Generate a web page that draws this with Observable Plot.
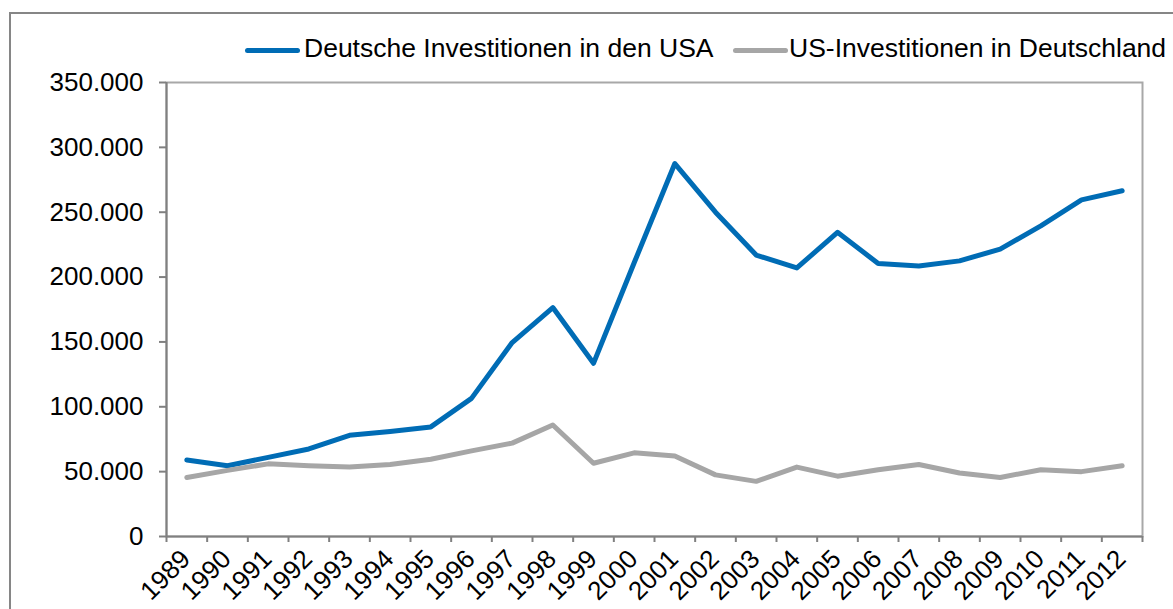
<!DOCTYPE html>
<html><head><meta charset="utf-8">
<script src="https://cdn.jsdelivr.net/npm/d3@7"></script>
<script src="https://cdn.jsdelivr.net/npm/@observablehq/plot@0.6"></script>
<style>
html,body{margin:0;padding:0;background:#fff;overflow:hidden;width:1173px;height:609px}
#wrap{position:relative;width:1173px;height:609px;overflow:hidden;font-family:"Liberation Sans",Arial,sans-serif}
#frame{position:absolute;left:9px;top:12px;width:2000px;height:2000px;border:2px solid #868686;box-sizing:border-box}
#chart{position:absolute;left:0;top:0}
.legtxt{position:absolute;top:33px;font-size:26.5px;line-height:30px;color:#000;white-space:nowrap}
.sw{position:absolute;top:47.5px;height:5px;border-radius:3px}
</style></head><body>
<div id="wrap"><div id="frame"></div><div id="chart"></div><div id="legend"></div></div>
<script>
const years = [1989,1990,1991,1992,1993,1994,1995,1996,1997,1998,1999,2000,2001,2002,2003,2004,2005,2006,2007,2008,2009,2010,2011,2012];
const deutscheInvestitionenUSA = [59000,54500,61000,67500,78000,81000,84500,106500,149500,176500,133500,211000,287500,250000,217000,207000,234500,210500,208500,212500,221500,239500,259500,266500];
const usInvestitionenDeutschland = [45500,51000,56000,54500,53500,55500,59500,66000,72000,86000,56500,64500,62000,47500,42500,53500,46500,51500,55500,49000,45500,51500,50000,54500];
const yTicks = [0,50000,100000,150000,200000,250000,300000,350000];
const seriesNames = ["Deutsche Investitionen in den USA","US-Investitionen in Deutschland"];
const seriesColors = ["#006cb5","#a6a6a6"];

const de = d3.formatLocale({decimal:",", thousands:".", grouping:[3], currency:["","\u00a0€"]});
const fmt = de.format(",d");

const blueData = years.map((yr,i)=>({year:yr, value:deutscheInvestitionenUSA[i], series:seriesNames[0]}));
const grayData = years.map((yr,i)=>({year:yr, value:usInvestitionenDeutschland[i], series:seriesNames[1]}));
const xDomain = [years[0]-0.5, years[years.length-1]+0.5];
const boundaries = [...years.map(y=>y-0.5), years[years.length-1]+0.5];

const chart = Plot.plot({
  width:1173, height:609,
  marginLeft:166, marginRight:31, marginTop:82, marginBottom:73,
  style:{fontFamily:"'Liberation Sans', Arial, sans-serif", fontSize:"26px", background:"transparent", color:"#000", overflow:"visible"},
  x:{domain:xDomain, label:null},
  y:{domain:[0,350000], label:null},
  color:{domain:seriesNames, range:seriesColors},
  marks:[
    Plot.frame({stroke:"#a8a8a8", strokeWidth:2}),
    Plot.ruleY([0], {stroke:"#808080", strokeWidth:2}),
    Plot.ruleX([xDomain[0]], {stroke:"#808080", strokeWidth:2}),
    Plot.axisY({ticks:yTicks, tickSize:7, tickFormat:()=>"", color:"#808080", label:null, strokeWidth:2}),
    Plot.axisY({ticks:yTicks, tickSize:0, tickPadding:23, tickFormat:fmt, color:"#000", label:null}),
    Plot.axisX({ticks:boundaries, tickSize:6, tickFormat:()=>"", color:"#808080", label:null, strokeWidth:2}),
    Plot.axisX({ticks:years, tickSize:0, tickPadding:0, tickRotate:-45, tickFormat:d=>String(d), textAnchor:"end", lineAnchor:"bottom", dx:5, dy:24, color:"#000", label:null}),
    Plot.lineY(blueData, {x:"year", y:"value", stroke:"series", strokeWidth:5, strokeLinecap:"round", strokeLinejoin:"round"}),
    Plot.lineY(grayData, {x:"year", y:"value", stroke:"series", strokeWidth:5, strokeLinecap:"round", strokeLinejoin:"round"})
  ]
});
document.getElementById("chart").appendChild(chart);

// legend
const legend = document.getElementById("legend");
const legendPos = [{sw:245, txt:304},{sw:733, txt:789}];
seriesNames.forEach((name,i)=>{
  const s = document.createElement("div");
  s.className = "sw";
  s.style.left = legendPos[i].sw + "px";
  s.style.width = "55px";
  s.style.background = seriesColors[i];
  legend.appendChild(s);
  const t = document.createElement("div");
  t.className = "legtxt";
  t.style.left = legendPos[i].txt + "px";
  t.textContent = name;
  legend.appendChild(t);
});
</script>
</body></html>
